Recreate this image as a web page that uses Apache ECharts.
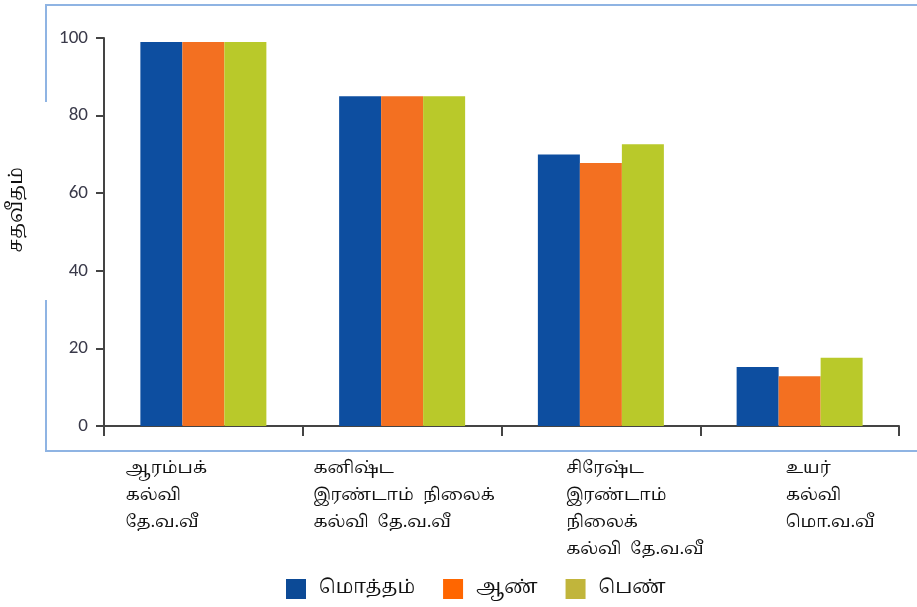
<!DOCTYPE html>
<html>
<head>
<meta charset="utf-8">
<script src="https://cdn.jsdelivr.net/npm/echarts@6/dist/echarts.min.js"></script>
<style>
  html, body { margin: 0; padding: 0; background: #fff; }
  #main { width: 917px; height: 607px; }
</style>
</head>
<body>
<div id="main"></div>
<script>
// கல்வி மட்டம் - categories
const categories = [
  'ஆரம்பக்\nகல்வி\nதே.வ.வீ',
  'கனிஷ்ட\nஇரண்டாம்  நிலைக்\nகல்வி  தே.வ.வீ',
  'சிரேஷ்ட\nஇரண்டாம்\nநிலைக்\nகல்வி  தே.வ.வீ',
  'உயர்\nகல்வி\nமொ.வ.வீ'
]
const seriesNames = ['மொத்தம்', 'ஆண்', 'பெண்']
const totalValues = [99, 85, 70, 15.2]
const maleValues = [99, 85, 67.8, 12.8]
const femaleValues = [99, 85, 72.6, 17.6]
const yTicks = [0, 20, 40, 60, 80, 100]

const barColors = ['#0d4ea0', '#f37021', '#b9c92a']
const legendColors = ['#0c4a96', '#ff6600', '#c1b53b']
// label shift so the text starts where it does in the picture
const labelShift = [-78, -89, -35, -14]

const tamilFont = '"Latha", "Noto Serif Tamil", "Noto Sans Tamil", "Lohit Tamil", serif'

const chart = echarts.init(document.getElementById('main'), null, { renderer: 'canvas' })

function makeBar(name, values, i) {
  return {
    name: name,
    type: 'bar',
    data: values,
    barWidth: 42,
    barGap: '0%',
    itemStyle: { color: barColors[i] },
    emphasis: { disabled: true }
  }
}

const option = {
  animation: false,
  backgroundColor: '#fff',
  grid: { left: 104, right: 18, top: 38, bottom: 181, containLabel: false, outerBoundsMode: 'none' },
  legend: {
    left: 281,
    bottom: 3,
    itemWidth: 20,
    itemHeight: 20,
    itemGap: 28,
    icon: 'rect',
    textStyle: { fontFamily: tamilFont, fontSize: 19, color: '#111', padding: [0, 0, 0, 8] },
    data: seriesNames.map((n, i) => ({ name: n, itemStyle: { color: legendColors[i] } }))
  },
  xAxis: {
    type: 'category',
    data: categories.map((c, i) => ({
      value: c,
      textStyle: { align: 'left', padding: [0, 0, 0, labelShift[i]] }
    })),
    axisLine: { lineStyle: { color: '#444', width: 2 } },
    axisTick: { show: true, length: 10, alignWithLabel: false, lineStyle: { color: '#444', width: 2 } },
    axisLabel: {
      interval: 0,
      margin: 30,
      fontFamily: tamilFont,
      fontSize: 17,
      lineHeight: 27,
      color: '#111',
      align: 'left'
    }
  },
  yAxis: {
    type: 'value',
    min: yTicks[0],
    max: yTicks[yTicks.length - 1],
    interval: yTicks[1] - yTicks[0],
    name: 'சதவீதம்',
    nameLocation: 'middle',
    nameGap: 76,
    nameRotate: 90,
    nameTextStyle: { fontFamily: tamilFont, fontSize: 19, color: '#111', padding: [0, 0, 0, 44] },
    splitLine: { show: false },
    axisLine: { show: true, lineStyle: { color: '#444', width: 2 } },
    axisTick: { show: true, length: 8, lineStyle: { color: '#444', width: 2 } },
    axisLabel: {
      margin: 16,
      fontFamily: 'Calibri, Carlito, "Open Sans", sans-serif',
      fontSize: 19,
      color: '#3a3a4a'
    }
  },
  graphic: [
    // light blue frame around the plot (broken on the left like the original)
    {
      type: 'polyline',
      silent: true,
      shape: { points: [[46, 102], [46, 5], [917, 5]] },
      style: { stroke: '#8fb4e3', lineWidth: 2, fill: null }
    },
    {
      type: 'polyline',
      silent: true,
      shape: { points: [[46, 300], [46, 451], [917, 451]] },
      style: { stroke: '#8fb4e3', lineWidth: 2, fill: null }
    }
  ],
  series: [
    makeBar(seriesNames[0], totalValues, 0),
    makeBar(seriesNames[1], maleValues, 1),
    makeBar(seriesNames[2], femaleValues, 2)
  ]
}

chart.setOption(option)
</script>
</body>
</html>
